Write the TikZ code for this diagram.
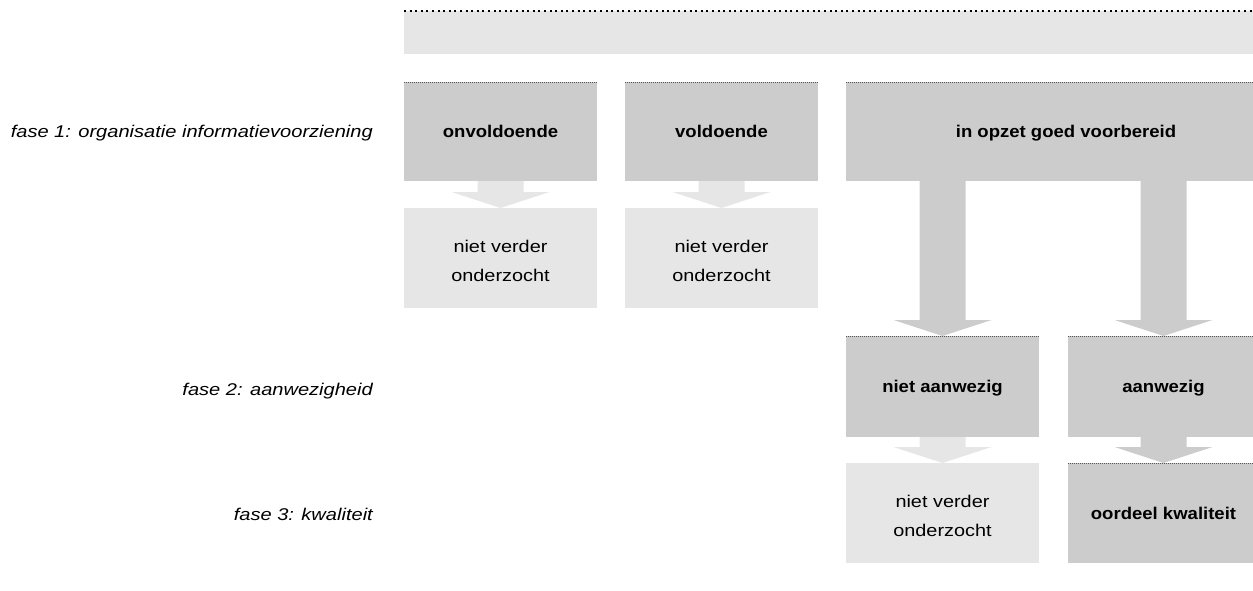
\documentclass[tikz,border=0pt]{standalone}
\usepackage{fontspec}
\usetikzlibrary{calc}
\newfontfamily\regf{Liberation Sans}[FakeStretch=1.17]
\newfontfamily\bldf{Liberation Sans Bold}[FakeStretch=1.09]
\newfontfamily\itf{Liberation Sans Italic}[FakeStretch=1.18]
\definecolor{cdark}{HTML}{CCCCCC}
\definecolor{clight}{HTML}{E6E6E6}
\definecolor{cdots}{HTML}{555555}
\newcommand{\fatarrow}[3]{%
  \path[fill=#1] let \p1=(#2.south), \p2=(#3.north) in
    (\x2-23pt,\y1) -- (\x2+23pt,\y1) -- (\x2+23pt,\y2+16pt) -- (\x2+49pt,\y2+16pt)
    -- (\x2,\y2) -- (\x2-49pt,\y2+16pt) -- (\x2-23pt,\y2+16pt) -- cycle;}
\begin{document}
\begin{tikzpicture}[x=1pt,y=-1pt,
  box/.style={inner sep=0pt, outer sep=0pt, anchor=north west,
    align=center, minimum height=99pt},
  darkbox/.style={box, fill=cdark, text height=15.4pt, text depth=3pt,
    font=\bldf\fontsize{17}{29}\selectfont},
  lightbox/.style={box, fill=clight, text height=46pt, text depth=0pt,
    font=\regf\fontsize{17}{29}\selectfont},
  phase/.style={anchor=base east, inner sep=0pt, font=\itf\fontsize{17}{29}\selectfont},
  boxdots/.style={draw=cdots, line width=0.9pt, dash pattern=on 0.9pt off 1.1pt},
  bardots/.style={draw=black, line width=2pt, dash pattern=on 2pt off 3.6pt},
]
\useasboundingbox (0,0) rectangle (1253,590);
\clip (0,0) rectangle (1253,590);
% header bar
\node[inner sep=0pt, outer sep=0pt, anchor=north west, fill=clight,
  minimum width=890pt, minimum height=43pt] (header) at (404,11) {};
\draw[bardots] (header.north west) -- (header.north east);
% phase labels
\node[phase] (f1) at (373,137.7) {fase 1: organisatie informatievoorziening};
\node[phase] (f2) at (373,395.5) {fase 2: aanwezigheid};
\node[phase] (f3) at (373,520) {fase 3: kwaliteit};
% phase 1 boxes
\node[darkbox, minimum width=193pt] (A1) at (404,82) {onvoldoende};
\node[darkbox, minimum width=193pt] (A2) at (625,82) {voldoende};
\node[darkbox, minimum width=440pt] (A3) at (846,82) {in opzet goed voorbereid};
\node[lightbox, minimum width=193pt, minimum height=100pt] (B1) at (404,208) {niet verder\\onderzocht};
\node[lightbox, minimum width=193pt, minimum height=100pt] (B2) at (625,208) {niet verder\\onderzocht};
% phase 2 boxes
\node[darkbox, minimum width=193pt, minimum height=101pt] (C1) at (846,336) {niet aanwezig};
\node[darkbox, minimum width=191pt, minimum height=101pt] (C2) at (1068,336) {aanwezig};
% phase 3 boxes
\node[lightbox, minimum width=193pt, minimum height=100pt] (D1) at (846,463) {niet verder\\onderzocht};
\node[darkbox, minimum width=191pt, minimum height=100pt] (D2) at (1068,463) {oordeel kwaliteit};
% arrows
\fatarrow{clight}{A1}{B1}
\fatarrow{clight}{A2}{B2}
\fatarrow{cdark}{A3}{C1}
\fatarrow{cdark}{A3}{C2}
\fatarrow{clight}{C1}{D1}
\fatarrow{cdark}{C2}{D2}
% dotted top edges
\foreach \n in {A1,A2,A3,C1,C2,D2}
  \draw[boxdots] (\n.north west) -- (\n.north east);
\end{tikzpicture}
\end{document}
